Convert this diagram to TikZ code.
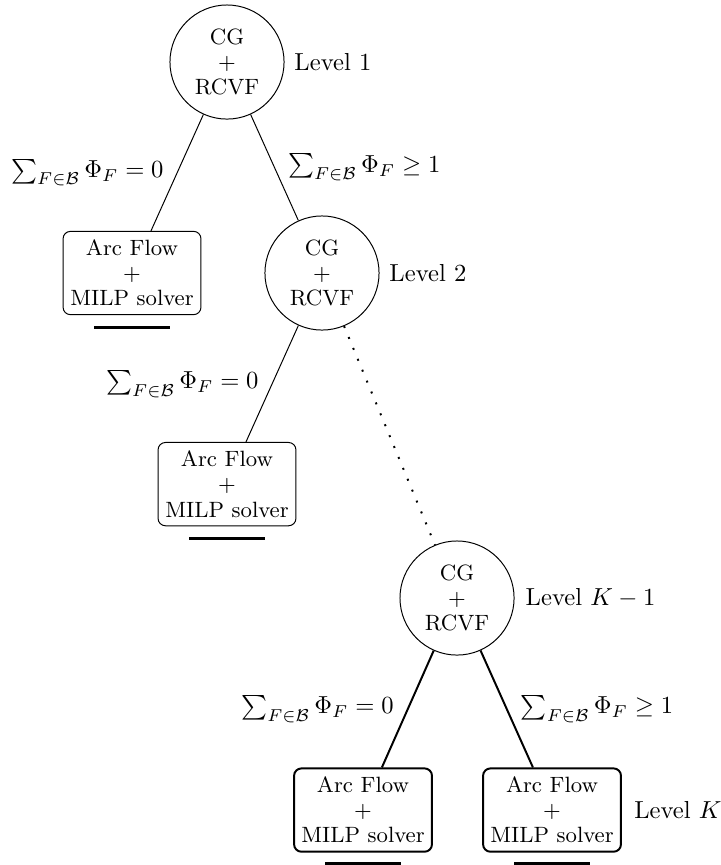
\documentclass[tikz,border=0pt]{standalone}
\usepackage{amsmath}
\usepackage{amssymb}
\usepackage{tikz}
\usetikzlibrary{positioning}
\tikzset{
    cg-node/.style = {draw, circle, thin, minimum size=1.63cm, inner sep=1pt, align=center, font=\fontsize{9}{10.2}\selectfont},
    arc-box/.style = {draw, thin, rectangle, rounded corners=3pt, minimum width=1.97cm, minimum height=1.19cm, inner sep=2pt, align=center, font=\fontsize{9}{10.2}\selectfont},
    left-cond/.style = {left, xshift=-2pt},
    right-cond/.style = {right, xshift=2pt},
    solved-mark/.style = {very thick},
}
\begin{document}
\begin{tikzpicture}
\useasboundingbox (-3.243,-11.471) rectangle (7.043,0.886);
\node [cg-node] (cg1) at (0,0) {CG\\+\\RCVF};
\node [arc-box] (arc1) at (-1.357,-3.014) {Arc Flow\\+\\MILP solver};
\node [cg-node] (cg2) at (1.357,-3.014) {CG\\+\\RCVF};
\node [arc-box] (arc2) at (0,-6.03) {Arc Flow\\+\\MILP solver};
\node [cg-node] (cg3) at (3.286,-7.657) {CG\\+\\RCVF};
\node [arc-box, thick] (arc3) at (1.943,-10.686) {Arc Flow\\+\\MILP solver};
\node [arc-box, thick] (arc4) at (4.643,-10.686) {Arc Flow\\+\\MILP solver};

\node [right=0.5pt of cg1] {Level 1};
\node [right=0.5pt of cg2] {Level 2};
\node [right=1pt of cg3] {Level $K-1$};
\node [right=1.5pt of arc4] {Level $K$};

\draw (cg1) -- node[left-cond] {$\sum_{F \in \mathcal{B}} \Phi_F = 0$} (arc1);
\draw (cg1) -- node[right-cond] {$\sum_{F \in \mathcal{B}} \Phi_F \geq 1$} (cg2);
\draw (cg2) -- node[left-cond] {$\sum_{F \in \mathcal{B}} \Phi_F = 0$} (arc2);
\draw [line width=0.8pt, loosely dotted] (cg2) -- (cg3);
\draw [thick] (cg3) -- node[left-cond] {$\sum_{F \in \mathcal{B}} \Phi_F = 0$} (arc3);
\draw [thick] (cg3) -- node[right-cond] {$\sum_{F \in \mathcal{B}} \Phi_F \geq 1$} (arc4);

\draw [solved-mark] ([yshift=-0.18cm]arc1.south) ++(-0.54,0) -- ++(1.08,0);
\draw [solved-mark] ([yshift=-0.18cm]arc2.south) ++(-0.54,0) -- ++(1.08,0);
\draw [solved-mark] ([yshift=-0.16cm]arc3.south) ++(-0.54,0) -- ++(1.08,0);
\draw [solved-mark] ([yshift=-0.16cm]arc4.south) ++(-0.54,0) -- ++(1.08,0);
\end{tikzpicture}
\end{document}
